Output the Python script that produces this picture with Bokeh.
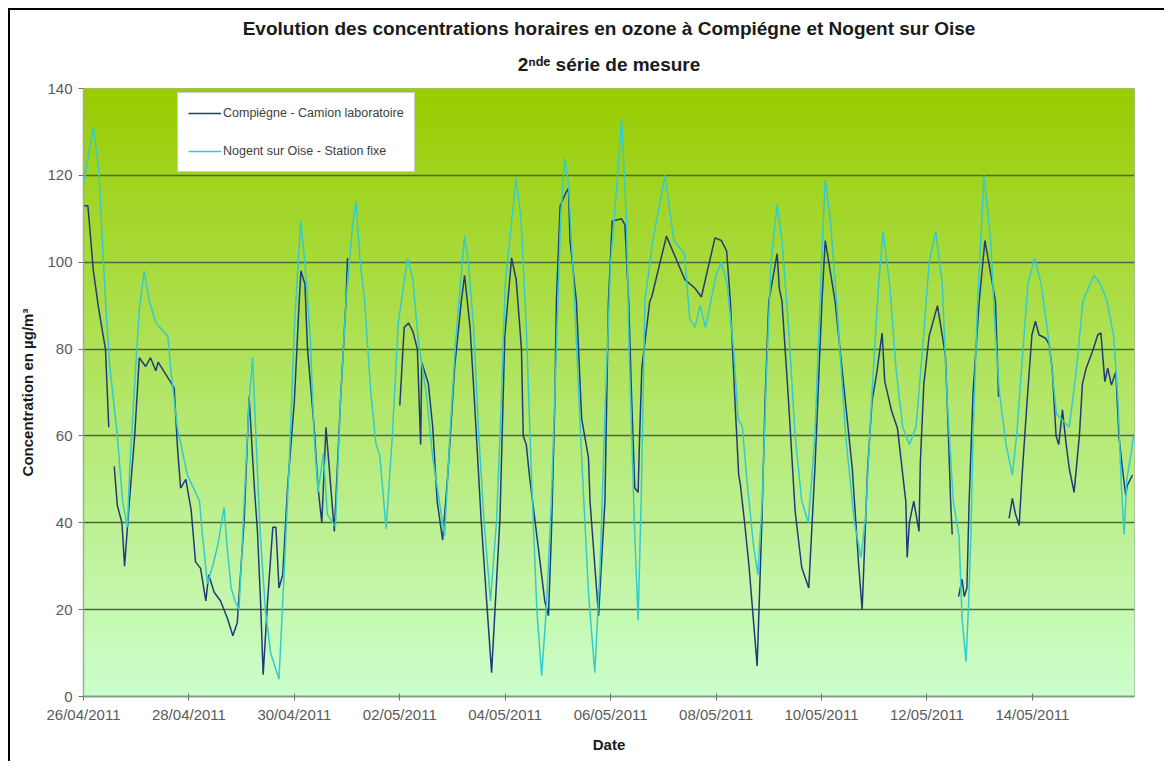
import pandas as pd
from bokeh.plotting import figure
from bokeh.models import (Range1d, FixedTicker, DatetimeTickFormatter, BoxAnnotation,
                          Legend, LegendItem, Title, ColumnDataSource)
from bokeh.embed import file_html
from bokeh.resources import INLINE

nan = float("nan")

# ---------------- data ----------------
START = "2011-04-26 00:00"
END_HOURS = 478.5

title_text = "Evolution des concentrations horaires en ozone à Compiégne et Nogent sur Oise"
subtitle_text = "2ⁿᵈᵉ série de mesure"
x_tick_labels = ["26/04/2011", "28/04/2011", "30/04/2011", "02/05/2011", "04/05/2011",
                 "06/05/2011", "08/05/2011", "10/05/2011", "12/05/2011", "14/05/2011"]
y_ticks = [0, 20, 40, 60, 80, 100, 120, 140]
grid_values = [20, 40, 60, 80, 100, 120]

# (hours since 26/04/2011 00:00, concentration µg/m³)
compiegne = [(0,113),(2,113),(4.5,98),(6.7,90),(8,86),(10,80),(11.5,62),(12.5,nan),(14,53),(15.4,44),
(17.5,40),(18.7,30),(20.9,45),(23.3,60),(25.4,78),(28.3,76),(30.5,78),(32.9,75),(34,77),(38.9,73),
(41.3,71),(42.7,58),(44.2,48),(46.6,50),(49,43),(51,31),(53.3,29.5),(55.7,22),(57,28),(59.5,24),
(62.4,22),(65.5,18),(68,14),(70,17),(73.2,41),(75.4,69),(77.8,48),(79.2,38),(80.6,22),(81.8,5),
(83.8,22),(86.2,39),(87.6,39),(89,25),(90.7,28),(92.9,48),(96,68),(98.2,91),(99,98),(100.8,95),
(102,80),(105,62),(106.8,48),(108.5,40),(110.4,62),(112.3,50),(114.2,38),(117,68),(119.5,91),(120.2,101),
(121,nan),(144,67),(146,85),(148,86),(150,84),(152,80),(153.5,58),(154,77),(157,72),(159,62),
(161,45),(163.5,36),(166,52),(169,76),(172,91),(173.5,97),(176,85),(178,68),(181,41),(183.4,23),
(185.8,5.5),(189.6,41),(191.8,83),(194.9,101),(197,96),(199.4,80),(200.2,60),(201.6,58),(203,51),(206.4,37),
(210,22),(211.7,18.6),(213,37),(214.6,68),(215.3,91),(217,113),(219.6,116),(220.8,117),(221.5,105),(224.4,91),
(226.8,64),(229.9,55),(230.6,45),(232.8,30),(234.5,18.6),(237.4,45),(239,91),(240.7,109.5),(245,110),(246.5,108.6),
(248.2,91),(249.6,68),(251,48),(252.5,47),(253.2,60),(254.2,75.6),(257.8,91),(258.7,92),(265.4,106),(273.8,96),
(278.4,94),(281.3,92),(287.5,105.6),(290.4,105),(292.8,102.6),(294.5,91),(296.6,68),(298.3,51),(299,49),(301,40),
(303,30),(306.7,7),(308.9,41),(310.3,68),(312,91),(315.8,102),(316.8,94),(318,91),(321,68),(324,42.6),
(327,29.7),(330.2,25),(333,52.5),(336.2,91),(337.7,105),(342.2,91),(350,52.5),(353,29.7),(354.5,20),(357,52.5),
(359,68),(361,74),(363.6,83.7),(364.8,72.5),(368,65.6),(370.6,61.7),(374.4,44.8),(375,32),(376,40),(378,45),
(380.4,38),(381,54),(382.6,72),(385,83),(388.8,90),(392.4,78.6),(393.8,60),(394.8,44.8),(395.5,37.3),(396.5,nan),
(398.4,23),(400,27),(401,23),(402.2,25),(403.2,44.8),(405,70),(407.8,91),(410.4,105),(415.2,91),(416,79),
(416.6,69),(417.5,nan),(421.4,41),(422.9,45.6),(424.3,42),(426,39.4),(427.2,50),(429.6,68),(431.8,83.3),(433.4,86.4),
(435,83.3),(438,82.5),(439.7,81),(441,75.6),(442.8,60),(444,58),(445.7,66),(447.4,58),(448.8,52.5),(451,47),
(453.4,60),(454.8,72),(456.5,75.6),(459.4,79.5),(461.8,83.3),(463.2,83.7),(465,72.5),(466.3,75.6),(468,71.7),(470,74.8),
(471.4,60),(473,52.5),(474.5,46.3),(475.2,48.6),(477.6,51)]

nogent = [(0,118),(2.4,125),(4.5,131),(7,121),(9,101),(10.6,86),(12,76),(15.4,60),(17.8,45),(20,39),
(21,52),(23.3,72),(25.4,89),(27.6,98),(30,91),(33,86),(38.4,83),(39.6,76),(42.7,62),(47.3,51),
(51,47),(52.8,45),(54,38),(56.4,26),(58.8,30),(61.2,35),(64,43.5),(65.3,35),(67.2,25),(69,22),
(70.8,20),(73.2,45),(75.4,68),(77,78),(78.5,60),(80.4,38),(82.8,20),(85.2,10),(89,4),(91.2,27),
(93.6,53),(96,85),(98.9,109.5),(100.8,100),(103.2,83),(105,60),(106.8,47),(109.2,56),(111,42),(114.7,39),
(117,68),(119.5,91),(122.4,108),(124,114),(126,100),(128,91),(130.8,70),(133.2,58),(134.9,55.5),(137.8,38.6),
(140.6,60),(143.3,86),(146.4,97),(147.6,101),(150,96),(152.4,82),(156,70),(159,55),(162,45),(164.4,37),
(166.8,60),(169.2,80),(171.6,95),(173.5,106),(175.2,100),(177.6,85),(180,60),(182.4,40),(185.3,22),(188,40),
(190,65),(192,95),(197,119.5),(199.2,110),(201.6,85),(204,50),(206.4,20),(208.6,4.8),(210.7,20),(213,45),
(215.3,80),(217.2,110),(219.1,124),(220.8,118),(223.2,95),(226.8,55),(229.9,24),(232.8,5.5),(235.2,30),(237.6,68),
(240,100),(242.4,115),(245,133),(247.2,110),(248.4,80),(250.8,40),(252.5,17.5),(253.9,45),(255.6,91),(259.2,105),
(264.7,120),(268.8,105),(273.6,102),(276,87),(278.4,85),(280.8,90),(283.2,85),(288,97),(290.4,100),(293,95),
(296,80),(298,64),(300,62),(302,50),(305,35),(307,28),(309,45),(311,75),(313,100),(315.8,113.3),
(318,105),(321,85),(324,60),(327,45),(330,40),(333,60),(336,100),(337.7,119),(340,110),(343,90),
(347,60),(351,40),(354,32),(356,41),(359,70),(362,95),(364,107),(367,95),(370,75),(373,62),
(376,58),(379,62),(382,80),(385,100),(388,107),(391,95),(393,70),(396,45),(398.6,37),(400,18),
(401.8,8),(403,21.7),(404,37),(405,60),(407,90),(410,120),(413,105),(415,85),(417,70),(420,58),
(422.9,51),(425,61),(427,75),(430,95),(433,101),(436,95),(440,80),(443,65),(448.8,62),(452,75),
(455,91),(460,97),(463,95),(466,91),(469,83),(471,68),(472.5,48.6),(473.8,37.3),(475,50),(477,56),
(478,60)]

series_names = ["Compiégne - Camion laboratoire", "Nogent sur Oise - Station fixe"]
series_colors = ["#1F3C7A", "#33CCCC"]

# ---------------- helpers ----------------
t0 = pd.Timestamp(START)

def to_source(pairs):
    return ColumnDataSource(dict(
        t=[t0 + pd.Timedelta(hours=h) for h, _ in pairs],
        v=[v for _, v in pairs]))

def ms(ts):
    return ts.value / 1e6

FONT = "Liberation Sans"

p = figure(width=1156, height=753, x_axis_type="datetime",
           output_backend="svg", toolbar_location=None,
           x_range=Range1d(ms(t0), ms(t0 + pd.Timedelta(hours=END_HOURS))),
           y_range=Range1d(0, 140),
           min_border_left=73, min_border_right=32, min_border_top=78, min_border_bottom=67,
           background_fill_color="#CCFFCC", border_fill_color="white",
           styles={"border-left": "2px solid #000", "border-top": "2px solid #000",
                   "margin-left": "8px", "margin-top": "8px"})

# gradient background (yellow-green top -> pale green bottom)
top_rgb = (153, 204, 0)
bot_rgb = (204, 255, 204)
nb = 140
for i in range(nb):
    f = (i + 0.5) / nb
    c = tuple(int(round(b + (t - b) * f)) for t, b in zip(top_rgb, bot_rgb))
    p.add_layout(BoxAnnotation(bottom=140 * i / nb, top=140 * (i + 1) / nb + 0.3,
                               fill_color="#%02x%02x%02x" % c, fill_alpha=1,
                               line_color=None, level="image"))

# grid
p.xgrid.visible = False
p.ygrid.ticker = FixedTicker(ticks=grid_values)
p.ygrid.grid_line_color = "#4A6A3A"
p.ygrid.grid_line_width = 1.6
p.ygrid.level = "underlay"

# axes
tick_ms = [ms(pd.to_datetime(s, format="%d/%m/%Y")) for s in x_tick_labels]
p.xaxis.ticker = FixedTicker(ticks=tick_ms)
fmt = "%d/%m/%Y"
p.xaxis.formatter = DatetimeTickFormatter(microseconds=fmt, milliseconds=fmt, seconds=fmt,
                                          minsec=fmt, minutes=fmt, hourmin=fmt, hours=fmt,
                                          days=fmt, months=fmt, years=fmt)
p.yaxis.ticker = FixedTicker(ticks=y_ticks)

for ax in (p.xaxis[0], p.yaxis[0]):
    ax.major_label_text_font = FONT
    ax.major_label_text_font_size = "15px"
    ax.major_label_text_color = "#5A5A5A"
    ax.axis_label_text_font = FONT
    ax.axis_label_text_font_size = "15px"
    ax.axis_label_text_font_style = "bold"
    ax.axis_label_text_color = "#1A1A1A"
    ax.minor_tick_line_color = None
    ax.major_tick_line_color = "#707070"

p.xaxis.axis_label = "Date"
p.xaxis.axis_line_color = "#7FA07F"
p.xaxis.axis_line_width = 2
p.xaxis.major_tick_in = 3
p.xaxis.major_tick_out = 4
p.xaxis.major_label_standoff = 5
p.xaxis.axis_label_standoff = 10

p.yaxis.axis_label = "Concentration en µg/m³"
p.yaxis.axis_line_color = "#98B098"
p.yaxis.axis_line_width = 1.5
p.yaxis.major_tick_in = 0
p.yaxis.major_tick_out = 5
p.yaxis.major_label_standoff = 6
p.yaxis.axis_label_standoff = 8

p.outline_line_color = "#A8B8A8"
p.outline_line_width = 1

# lines
r1 = p.line("t", "v", source=to_source(compiegne), line_color=series_colors[0], line_width=1.5)
r2 = p.line("t", "v", source=to_source(nogent), line_color=series_colors[1], line_width=1.5)

legend = Legend(items=[LegendItem(label=series_names[0], renderers=[r1]),
                       LegendItem(label=series_names[1], renderers=[r2])],
                location=(94, 524), orientation="vertical",
                border_line_color="#9A9A9A", border_line_width=1,
                background_fill_color="white", background_fill_alpha=1,
                label_text_font=FONT, label_text_font_size="12.5px", label_text_color="#404040",
                glyph_width=33, glyph_height=20, label_height=20, spacing=18,
                padding=10, margin=0, label_standoff=2)
p.add_layout(legend)

# titles (sub-title first = closest to the frame)
p.add_layout(Title(text=subtitle_text, align="center", text_font=FONT,
                   text_font_size="19px", text_font_style="bold", text_color="#1A1A1A",
                   text_line_height=0.8, standoff=27), "above")
p.add_layout(Title(text=title_text, align="center", text_font=FONT,
                   text_font_size="19px", text_font_style="bold", text_color="#1A1A1A",
                   text_line_height=0.8, standoff=0), "above")

open("out.html", "w").write(file_html(p, INLINE))
